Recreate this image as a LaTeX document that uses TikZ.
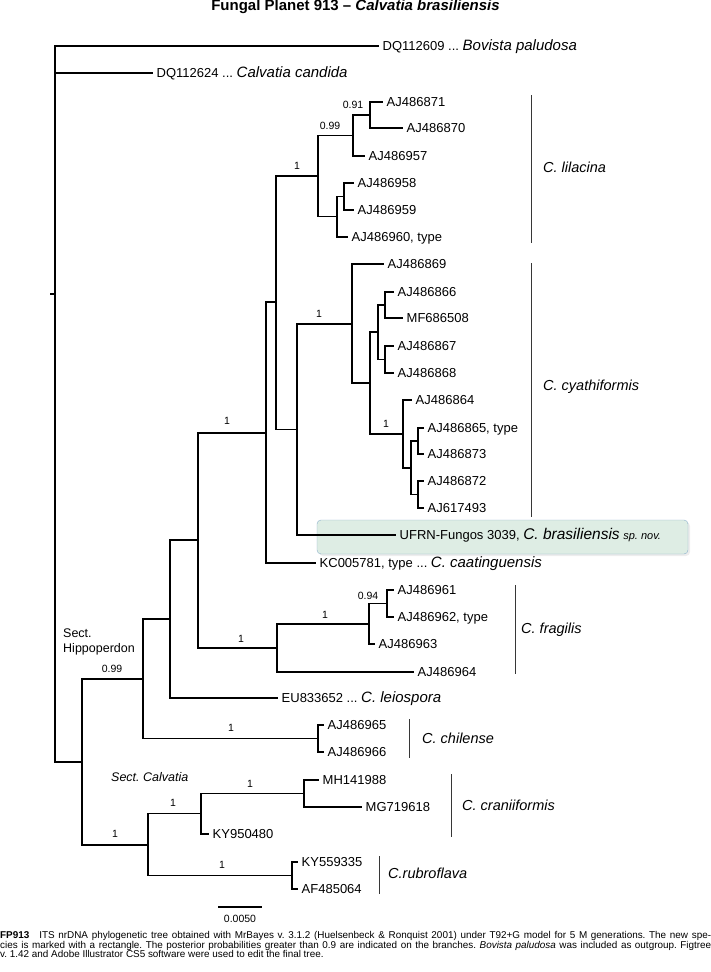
\documentclass[tikz,border=0pt]{standalone}
\usepackage{fontspec}
\setmainfont{Liberation Sans}
\usepackage{tikz}
\usepackage{xcolor}
\definecolor{boxfill}{RGB}{222,237,228}
\definecolor{boxline}{RGB}{140,176,204}
\definecolor{barline}{RGB}{55,55,55}
\frenchspacing

\begin{document}
\begin{tikzpicture}[x=1pt,y=-1pt,
  br/.style={line width=1.8pt,line cap=rect},
  leaf/.style={anchor=west,inner xsep=4.5pt,inner ysep=0pt,text height=9.3pt,text depth=0pt,font=\fontsize{13}{13}\selectfont},
  pp/.style={inner sep=0pt,font=\fontsize{10.5}{10.5}\selectfont},
  cladebar/.style={line width=0.9pt,draw=barline},
  clade/.style={anchor=west,inner sep=0pt,text height=10.4pt,text depth=0pt,font=\fontsize{14.5}{14.5}\selectfont\itshape},
  sect/.style={anchor=west,inner sep=0pt,font=\fontsize{12.5}{12.5}\selectfont}]
\useasboundingbox (0,0) rectangle (711,972);
\node[font=\fontsize{15}{15}\selectfont\bfseries] (title) at (355.5,7) {Fungal Planet 913 – \textit{Calvatia brasiliensis}};
% new species box
\fill[black!7,rounded corners=4pt] (319,522) rectangle (690,556);
\draw[fill=boxfill,draw=boxline,rounded corners=4pt] (317,520) rectangle (688,554);
% internal nodes
\coordinate (stub) at (51,294);
\coordinate (root) at (55,294);
\coordinate (nAll) at (82,762);
\coordinate (nHip) at (143,679);
\coordinate (nCal) at (148,845);
\coordinate (n170) at (170,619);
\coordinate (n198) at (198,540);
\coordinate (n266) at (266,433);
\coordinate (n276) at (276,302);
\coordinate (nLil) at (318,176);
\coordinate (n099) at (353,135.5);
\coordinate (n091) at (370,115);
\coordinate (nD) at (337,216.5);
\coordinate (nE) at (344,196.5);
\coordinate (n297) at (297,429.5);
\coordinate (nCya) at (352,324);
\coordinate (nG) at (370,383);
\coordinate (nH) at (378,332);
\coordinate (nI1) at (385,305);
\coordinate (nI2) at (385,359.5);
\coordinate (nJ) at (403,434);
\coordinate (nK) at (411,468);
\coordinate (nL1) at (418,441);
\coordinate (nL2) at (418,494.5);
\coordinate (nFra) at (277,648);
\coordinate (nF1) at (369,624);
\coordinate (n094) at (387,603.5);
\coordinate (nChi) at (318,738.5);
\coordinate (nCra) at (201,813.5);
\coordinate (nCr1) at (304,793.5);
\coordinate (nRub) at (292,875.5);
% leaves
\node[leaf] (bov) at (378,46) {DQ112609 ... {\fontsize{15}{15}\selectfont\itshape Bovista paludosa}};
\node[leaf] (cand) at (152,73) {DQ112624 ... {\fontsize{15}{15}\selectfont\itshape Calvatia candida}};
\node[leaf] (l871) at (382,102) {AJ486871};
\node[leaf] (l870) at (402,128) {AJ486870};
\node[leaf] (l957) at (364,156) {AJ486957};
\node[leaf] (l958) at (353,183) {AJ486958};
\node[leaf] (l959) at (353,210) {AJ486959};
\node[leaf] (l960) at (347,237) {AJ486960, type};
\node[leaf] (l869) at (383,264) {AJ486869};
\node[leaf] (l866) at (393,292) {AJ486866};
\node[leaf] (m508) at (402,318) {MF686508};
\node[leaf] (l867) at (393,346) {AJ486867};
\node[leaf] (l868) at (393,373) {AJ486868};
\node[leaf] (l864) at (411,400) {AJ486864};
\node[leaf] (l865) at (423,428) {AJ486865, type};
\node[leaf] (l873) at (423,454) {AJ486873};
\node[leaf] (l872) at (423,481) {AJ486872};
\node[leaf] (l493) at (423,508) {AJ617493};
\node[leaf] (ufrn) at (395,535) {UFRN-Fungos 3039, {\fontsize{15.5}{15.5}\selectfont\itshape C. brasiliensis} {\fontsize{11}{11}\selectfont\itshape sp. nov.}};
\node[leaf] (kc781) at (315,563) {KC005781, type ... {\fontsize{15}{15}\selectfont\itshape C. caatinguensis}};
\node[leaf] (l961) at (393,590) {AJ486961};
\node[leaf] (l962) at (393,617) {AJ486962, type};
\node[leaf] (l963) at (374,644) {AJ486963};
\node[leaf] (l964) at (413,672) {AJ486964};
\node[leaf] (eu652) at (277,698) {EU833652 ... {\fontsize{15}{15}\selectfont\itshape C. leiospora}};
\node[leaf] (l965) at (323,725) {AJ486965};
\node[leaf] (l966) at (323,752) {AJ486966};
\node[leaf] (mh988) at (318,780) {MH141988};
\node[leaf] (mg618) at (361,807) {MG719618};
\node[leaf] (ky480) at (208,834) {KY950480};
\node[leaf] (ky335) at (297,862) {KY559335};
\node[leaf] (af064) at (297,889) {AF485064};
% branches
\draw[br] (stub) -- (root);
\draw[br] (root) |- (bov.west);
\draw[br] (root) |- (cand.west);
\draw[br] (root) |- (nAll);
\draw[br] (nAll) |- (nHip);
\draw[br] (nAll) |- (nCal);
\draw[br] (nHip) |- (n170);
\draw[br] (nHip) |- (nChi);
\draw[br] (n170) |- (n198);
\draw[br] (n170) |- (eu652.west);
\draw[br] (n198) |- (n266);
\draw[br] (n198) |- (nFra);
\draw[br] (n266) |- (n276);
\draw[br] (n266) |- (kc781.west);
\draw[br] (n276) |- (nLil);
\draw[br] (n276) |- (n297);
\draw[br] (nLil) |- (n099);
\draw[br] (nLil) |- (nD);
\draw[br] (n099) |- (n091);
\draw[br] (n099) |- (l957.west);
\draw[br] (n091) |- (l871.west);
\draw[br] (n091) |- (l870.west);
\draw[br] (nD) |- (nE);
\draw[br] (nD) |- (l960.west);
\draw[br] (nE) |- (l958.west);
\draw[br] (nE) |- (l959.west);
\draw[br] (n297) |- (nCya);
\draw[br] (n297) |- (ufrn.west);
\draw[br] (nCya) |- (l869.west);
\draw[br] (nCya) |- (nG);
\draw[br] (nG) |- (nH);
\draw[br] (nG) |- (nJ);
\draw[br] (nH) |- (nI1);
\draw[br] (nH) |- (nI2);
\draw[br] (nI1) |- (l866.west);
\draw[br] (nI1) |- (m508.west);
\draw[br] (nI2) |- (l867.west);
\draw[br] (nI2) |- (l868.west);
\draw[br] (nJ) |- (l864.west);
\draw[br] (nJ) |- (nK);
\draw[br] (nK) |- (nL1);
\draw[br] (nK) |- (nL2);
\draw[br] (nL1) |- (l865.west);
\draw[br] (nL1) |- (l873.west);
\draw[br] (nL2) |- (l872.west);
\draw[br] (nL2) |- (l493.west);
\draw[br] (nFra) |- (nF1);
\draw[br] (nFra) |- (l964.west);
\draw[br] (nF1) |- (n094);
\draw[br] (nF1) |- (l963.west);
\draw[br] (n094) |- (l961.west);
\draw[br] (n094) |- (l962.west);
\draw[br] (nChi) |- (l965.west);
\draw[br] (nChi) |- (l966.west);
\draw[br] (nCal) |- (nCra);
\draw[br] (nCal) |- (nRub);
\draw[br] (nCra) |- (nCr1);
\draw[br] (nCra) |- (ky480.west);
\draw[br] (nCr1) |- (mh988.west);
\draw[br] (nCr1) |- (mg618.west);
\draw[br] (nRub) |- (ky335.west);
\draw[br] (nRub) |- (af064.west);
% posterior probabilities
\node[pp] (p091) at (353,105) {0.91};
\node[pp] (p099a) at (330,126) {0.99};
\node[pp] (pLil) at (297,166) {1};
\node[pp] (pCya) at (319,314) {1};
\node[pp] (pJ) at (386,424) {1};
\node[pp] (p266) at (227,421) {1};
\node[pp] (pFra) at (241,639) {1};
\node[pp] (pF1) at (325,615) {1};
\node[pp] (p094) at (368,596) {0.94};
\node[pp] (p099b) at (112,669) {0.99};
\node[pp] (pChi) at (231,728) {1};
\node[pp] (pCr1) at (250,784) {1};
\node[pp] (pCra) at (173,803) {1};
\node[pp] (pCal) at (115,834) {1};
\node[pp] (pRub) at (222,865) {1};
% sections
\node[sect] (hip1) at (63,633) {Sect.};
\node[sect] (hip2) at (63,649) {Hippoperdon};
\node[sect,font=\fontsize{12.5}{12.5}\selectfont\itshape] (calv) at (111,777) {Sect. Calvatia};
% species bars
\draw[cladebar] (531,95) -- (531,243);
\node[clade] (lil) at (543,167) {C. lilacina};
\draw[cladebar] (531,263) -- (531,517);
\node[clade] (cya) at (543,385) {C. cyathiformis};
\draw[cladebar] (515,585) -- (515,674);
\node[clade] (fra) at (521,628) {C. fragilis};
\draw[cladebar] (409,719) -- (409,758);
\node[clade] (chi) at (422,738) {C. chilense};
\draw[cladebar] (451,774) -- (451,837);
\node[clade] (cra) at (462,805) {C. craniiformis};
\draw[cladebar] (379,856) -- (379,894);
\node[clade] (rub) at (388,873) {C.rubroflava};
% scale
\coordinate (sc1) at (218,907);
\coordinate (sc2) at (262,907);
\draw[line width=1.1pt] (sc1) -- (sc2);
\node[pp] (scl) at (240,919) {0.0050};
% caption
\node[anchor=north west,inner sep=0pt,align=left,font=\fontsize{9.9}{9.8}\selectfont] (caption) at (0,931)
{\makebox[711pt][s]{\textbf{FP913}\quad ITS nrDNA phylogenetic tree obtained with MrBayes v. 3.1.2 (Huelsenbeck \& Ronquist 2001) under T92+G model for 5 M generations. The new spe-}\\
\makebox[711pt][s]{cies is marked with a rectangle. The posterior probabilities greater than 0.9 are indicated on the branches. \textit{Bovista paludosa} was included as outgroup. Figtree}\\
v. 1.42 and Adobe Illustrator CS5 software were used to edit the final tree.};
\end{tikzpicture}
\end{document}
